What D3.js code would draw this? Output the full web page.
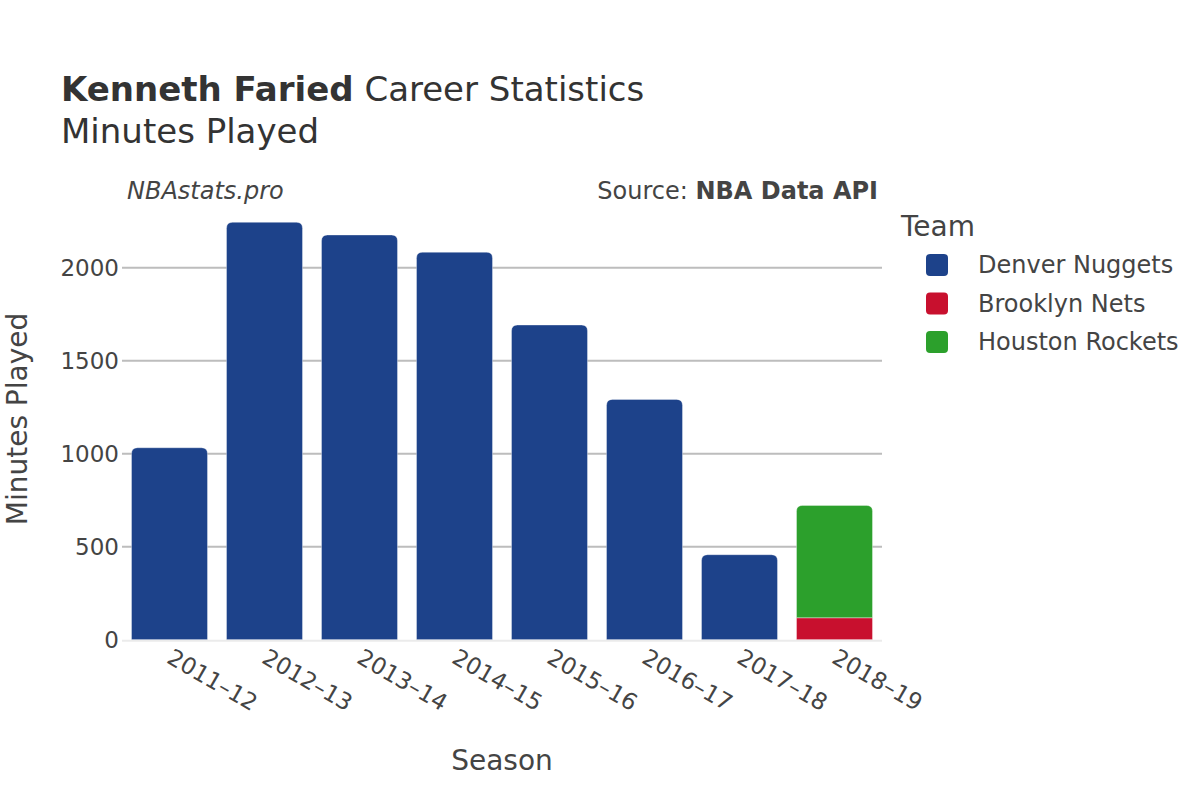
<!DOCTYPE html>
<html><head><meta charset="utf-8">
<script src="https://cdn.jsdelivr.net/npm/d3@7"></script>
<style>body{margin:0;background:#fff}svg{font-family:"DejaVu Sans",sans-serif}</style>
</head><body>
<script>
const seasons = ["2011–12","2012–13","2013–14","2014–15","2015–16","2016–17","2017–18","2018–19"];
const teams = ["Denver Nuggets","Brooklyn Nets","Houston Rockets"];
const teamColors = ["#1d428a","#c8102e","#2ca02c"];
const denver = [1032,2244,2176,2083,1692,1292,457,0];
const brooklyn = [0,0,0,0,0,0,0,118];
const houston = [0,0,0,0,0,0,0,604];
const yTicks = [0,500,1000,1500,2000];

const W=1200,H=800;
const svg=d3.select("body").append("svg").attr("width",W).attr("height",H);
const x=d3.scaleBand().domain(seasons).range([122,882]).paddingInner(0.2).paddingOuter(0.1);
const y=d3.scaleLinear().domain([0,2000]).range([639.7,267.7]);
const txt="#444";

svg.append("g").selectAll("line").data(yTicks.filter(d=>d>0)).join("line")
 .attr("x1",122).attr("x2",882).attr("y1",d=>y(d)).attr("y2",d=>y(d))
 .attr("stroke","#bdbdbd").attr("stroke-width",2);
svg.append("g").selectAll("text").data(yTicks).join("text")
 .attr("x",119).attr("y",d=>y(d)).attr("dy","0.35em").attr("text-anchor","end")
 .attr("font-size",23).attr("fill",txt).text(d=>d);

const series = [denver,brooklyn,houston];
const rows = seasons.map((s,i)=>({season:s,"Denver Nuggets":denver[i],"Brooklyn Nets":brooklyn[i],"Houston Rockets":houston[i]}));
const stack=d3.stack().keys(teams)(rows);
function barPath(x0,w,y0,y1,r){
  r=Math.min(r,(y0-y1)/2,w/2);
  return `M${x0},${y0}V${y1+r}Q${x0},${y1} ${x0+r},${y1}H${x0+w-r}Q${x0+w},${y1} ${x0+w},${y1+r}V${y0}Z`;
}
stack.forEach((layer,k)=>{
  svg.append("g").selectAll("path").data(layer.filter(d=>d[1]-d[0]>0)).join("path")
   .attr("fill",teamColors[k])
   .attr("d",d=>{
     const i=seasons.indexOf(d.data.season);
     let isTop=true;
     for(let j=k+1;j<teams.length;j++){ if(series[j][i]>0) isTop=false; }
     return barPath(x(d.data.season),x.bandwidth(),y(d[0]),y(d[1]),isTop?6:0);
   })
   .attr("stroke","#fff").attr("stroke-width",0.6).attr("stroke-opacity",0.6);
});

svg.append("line").attr("x1",122).attr("x2",882).attr("y1",y(0)+1).attr("y2",y(0)+1)
 .attr("stroke","#ebebeb").attr("stroke-width",2);

svg.append("g").selectAll("text").data(seasons).join("text")
 .attr("transform",d=>`translate(${x(d)+x.bandwidth()/2-4},${662}) rotate(30)`)
 .attr("font-size",23).attr("fill",txt).attr("text-anchor","start").text(d=>d);

const t=svg.append("text").attr("x",61).attr("y",101).attr("font-size",34).attr("fill","#333");
t.append("tspan").attr("font-weight","bold").text("Kenneth Faried");
t.append("tspan").text(" Career Statistics");
svg.append("text").attr("x",61).attr("y",143).attr("font-size",34).attr("fill","#333").text("Minutes Played");
svg.append("text").attr("x",127).attr("y",199).attr("font-size",24).attr("font-style","italic").attr("fill",txt).text("NBAstats.pro");
const s=svg.append("text").attr("x",878).attr("y",199).attr("font-size",24).attr("text-anchor","end").attr("fill",txt);
s.append("tspan").text("Source: ");
s.append("tspan").attr("font-weight","bold").text("NBA Data API");

svg.append("text").attr("x",502).attr("y",770).attr("font-size",28).attr("text-anchor","middle").attr("fill",txt).text("Season");
svg.append("text").attr("transform","translate(27,419) rotate(-90)").attr("font-size",28).attr("text-anchor","middle").attr("fill",txt).text("Minutes Played");

svg.append("text").attr("x",901).attr("y",236).attr("font-size",28).attr("fill",txt).text("Team");
const lg=svg.append("g").selectAll("g").data(teams).join("g").attr("transform",(d,i)=>`translate(0,${265+i*38.5})`);
lg.append("rect").attr("x",926).attr("y",-11).attr("width",22).attr("height",22).attr("rx",4).attr("fill",(d,i)=>teamColors[i]);
lg.append("text").attr("x",978).attr("y",0).attr("dy","0.35em").attr("font-size",24).attr("fill",txt).text(d=>d);
</script>
</body></html>
